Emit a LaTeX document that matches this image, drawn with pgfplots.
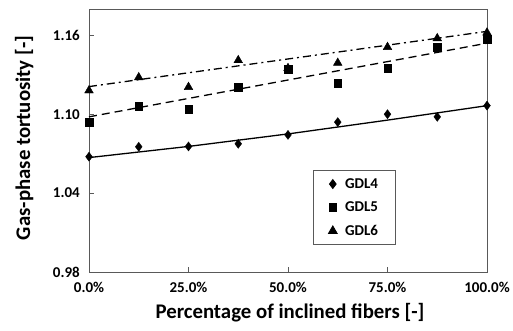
\documentclass[border=0pt]{standalone}
\usepackage{pgfplots}
\pgfplotsset{compat=1.18}
\usepackage{fontspec}
\setmainfont{Carlito}
\begin{document}
\begin{tikzpicture}[x=1pt,y=1pt]
\path[use as bounding box] (-89,-58) rectangle (424,272);
\begin{axis}[
  at={(0,0)}, anchor=south west,
  scale only axis,
  width=398pt, height=263pt,
  xmin=0, xmax=100, ymin=0.98, ymax=1.18,
  xtick={0,25,50,75,100},
  xticklabels={0.0\%,25.0\%,50.0\%,75.0\%,100.0\%},
  ytick={0.98,1.04,1.10,1.16},
  /pgf/number format/assume math mode=true,
  tick align=inside,
  xtick pos=bottom, ytick pos=left,
  major tick length=5pt,
  tick style={gray!70!black, line width=0.8pt},
  axis line style={gray!70!black, line width=1pt},
  ticklabel style={font=\fontsize{15}{17}\selectfont\bfseries},
  xticklabel style={anchor=center, yshift=-15pt},
  yticklabel style={/pgf/number format/fixed, /pgf/number format/fixed zerofill,
    /pgf/number format/precision=2, anchor=east, xshift=-5.7pt},
  xlabel={Percentage of inclined fibers [-]},
  ylabel={Gas-phase tortuosity [-]},
  label style={font=\fontsize{20.8}{24}\selectfont\bfseries},
  xlabel style={at={(axis description cs:0.505,-0.156)}, anchor=center},
  ylabel style={at={(axis description cs:-0.163,0.51)}, anchor=center},
  clip=false,
  legend style={at={(0.563,0.388)}, anchor=north west, draw=gray!70!black, line width=0.8pt,
    font=\fontsize{15}{17}\selectfont\bfseries, inner xsep=15pt, inner ysep=6pt,
    row sep=8pt, /tikz/every odd column/.append style={column sep=6pt}},
  legend cell align=left,
]
% trend lines
\addplot[black, line width=1.3pt, forget plot] coordinates {(0,1.067) (25,1.0755) (50,1.085) (75,1.0955) (100,1.1065)};
\addplot[black, line width=1.3pt, dash pattern=on 8pt off 5pt, forget plot] coordinates {(0,1.098) (100,1.154)};
\addplot[black, line width=1.3pt, dash pattern=on 8pt off 4pt on 2pt off 4pt, forget plot] coordinates {(0,1.121) (100,1.163)};
% data
\addplot[only marks, mark=diamond*, mark size=4.5pt, black] coordinates {
(0,1.0677) (12.5,1.0752) (25,1.0755) (37.5,1.0775) (50,1.0843) (62.5,1.094) (75,1.100) (87.5,1.098) (100,1.1065)};
\addlegendentry{GDL4\hspace{22pt}}
\addplot[only marks, mark=square*, mark size=3.8pt, black] coordinates {
(0,1.094) (12.5,1.106) (25,1.104) (37.5,1.1206) (50,1.134) (62.5,1.1237) (75,1.135) (87.5,1.151) (100,1.157)};
\addlegendentry{GDL5\hspace{22pt}}
\addplot[only marks, mark=triangle*, mark size=5pt, black] coordinates {
(0,1.118) (12.5,1.128) (25,1.1206) (37.5,1.141) (50,1.135) (62.5,1.139) (75,1.151) (87.5,1.1577) (100,1.162)};
\addlegendentry{GDL6\hspace{22pt}}
\end{axis}
\end{tikzpicture}
\end{document}
